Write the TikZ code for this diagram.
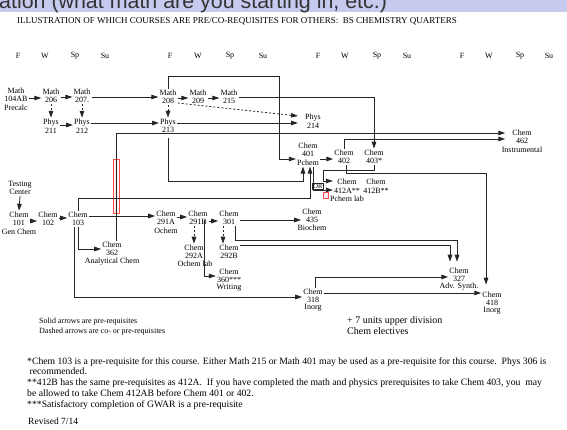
\documentclass[tikz,border=0pt]{standalone}
\usepackage{fontspec}
\setmainfont{Liberation Serif}
\newfontfamily\bannerfont{Liberation Sans}
\usetikzlibrary{arrows.meta,calc}
\definecolor{bannerbg}{RGB}{198,202,238}
\begin{document}
\begin{tikzpicture}[x=1pt,y=-1pt,
  course/.style={align=center,inner sep=1pt,font=\fontsize{8}{8.5}\selectfont},
  sub/.style={inner sep=0pt,font=\fontsize{8}{8.5}\selectfont},
  arr/.style={draw=black!85,line width=0.8pt,-{Triangle[length=7pt,width=4.5pt]}},
  darr/.style={arr,dash pattern=on 2pt off 2pt},
  season/.style={font=\fontsize{8}{8}\selectfont,inner sep=0pt},
  redmark/.style={draw=red!70,fill=red!6,line width=0.5pt}
]
\useasboundingbox (0,0) rectangle (567,430);
\fill[white] (0,0) rectangle (567,430);
\begin{scope}
  \clip (0,0) rectangle (567,430);
  \fill[bannerbg] (0,0) rectangle (567,12);
  \node[anchor=base west,inner sep=0pt,font=\bannerfont\fontsize{21.4}{21.4}\selectfont,text=black!80] (banner) at (-1,8.5) {ation (what math are you starting in, etc.)};
\end{scope}

\node[anchor=west,inner sep=0pt,font=\fontsize{9}{9}\selectfont] (title) at (17,21) {ILLUSTRATION OF WHICH COURSES ARE PRE/CO-REQUISITES FOR OTHERS:\ \ BS CHEMISTRY QUARTERS};

\foreach \x/\t [count=\i] in {18/F,45/W,75/Sp,105/Su,170/F,198/W,230/Sp,263/Su,318/F,345/W,377/Sp,407/Su,462/F,489/W,520/Sp,549/Su}
  \node[season] (s\i) at (\x,56) {\t};

% red annotation marks
\draw[redmark] (113,159) rectangle (119,213);
\draw[redmark] (323,192) rectangle (328,198);

% math / physics
\node[course] (m104) at (16,99) {Math\\104AB\\Precalc};
\node[course] (m206) at (51,96) {Math\\206};
\node[course] (m207) at (82,96) {Math\\207.};
\node[course] (m208) at (168,97) {Math\\208};
\node[course] (m209) at (198,97) {Math\\209};
\node[course] (m215) at (229,97) {Math\\215};
\node[course] (p211) at (51,126) {Phys\\211};
\node[course] (p212) at (82,126) {Phys\\212};
\node[course] (p213) at (168,126) {Phys\\213};
\node[course] (p214) at (313,121) {Phys\\214};

% upper chem
\node[course] (c401) at (308,154) {Chem\\401\\Pchem};
\node[course] (c402) at (344,157) {Chem\\402};
\node[course] (c403) at (374,157) {Chem\\403*};
\node[course] (c462) at (522,137) {Chem\\462};
\node[sub] (c462t) at (522,150) {Instrumental};
\node[course] (c412a) at (347,186) {Chem\\412A**};
\node[course] (c412b) at (376,186) {Chem\\412B**};
\node[sub] (plab) at (347,199) {Pchem lab};
\node[draw=black!85,line width=0.5pt,inner sep=0.8pt,font=\fontsize{6.5}{7}\selectfont] (orl) at (318,186) {OR};

% chem row
\node[course] (test) at (20,188) {Testing\\Center};
\node[course] (c101) at (19,219) {Chem\\101};
\node[sub] (c101t) at (19,232) {Gen Chem};
\node[course] (c102) at (48,219) {Chem\\102};
\node[course] (c103) at (78,219) {Chem\\103};
\node[course] (c362) at (112,249) {Chem\\362};
\node[sub] (c362t) at (112,262) {Analytical Chem};
\node[course] (c291a) at (166,218) {Chem\\291A};
\node[sub] (c291at) at (166,231) {Ochem};
\node[course] (c291b) at (198,218) {Chem\\291B};
\node[course] (c301) at (229,218) {Chem\\301};
\node[course] (c435) at (312,216) {Chem\\435};
\node[sub] (c435t) at (312,228) {Biochem};
\node[course] (c292a) at (194,252) {Chem\\292A};
\node[sub] (c292at) at (195,264) {Ochem lab};
\node[course] (c292b) at (229,252) {Chem\\292B};
\node[course] (c360) at (229,276) {Chem\\360***};
\node[sub] (c360t) at (229,288) {Writing};
\node[course] (c327) at (459,275) {Chem\\327};
\node[sub] (c327t) at (459,287) {Adv. Synth.};
\node[course] (c318) at (313,296) {Chem\\318};
\node[sub] (c318t) at (313,308) {Inorg};
\node[course] (c418) at (492,299) {Chem\\418};
\node[sub] (c418t) at (492,311) {Inorg};

% connectors: math / physics
\draw[arr] (m104.east |- 0,98) -- (m206.west |- 0,98);
\draw[arr] (m206.east |- 0,97) -- (m207.west |- 0,97);
\draw[arr] (m207.east |- 0,97) -- (m208.west |- 0,97);
\draw[arr] (m208.east |- 0,98) -- (m209.west |- 0,98);
\draw[arr] (m209.east |- 0,98) -- (m215.west |- 0,98);
\draw[arr] (m215.east |- 0,97) -| (c403.north);
\draw[arr] (m208.north) |- (279,76) |- (c401.west |- 0,159);
\draw[darr] (m206.south) -- (p211.north);
\draw[darr] (m207.south) -- (p212.north);
\draw[darr] (m208.south) -- (p213.north);
\draw[darr] (m208.east |- 0,103) -- ($(p214.west |- 0,116)+(-6,0)$);
\draw[arr] (p211.east |- 0,125) -- (p212.west |- 0,125);
\draw[arr] (p212.east |- 0,123) -- (p213.west |- 0,123);
\draw[arr] (p213.east |- 0,123) -- ($(p214.west |- 0,123)+(-6,0)$);
\draw[arr,shorten <=4pt] (p213.south) |- (303,181) -- (c401.south -| 303,0);

% connectors: upper chem
\draw[arr] (c103.north) |- (310,198) -- (c401.south -| 310,0);
\draw[arr] (c362.north -| 116,0) |- ($(c462.west |- 0,133)+(-6,0)$);
\draw[arr] (c402.north) |- ($(c462.west |- 0,139)+(-6,0)$);
\draw[arr] (c401.east |- 0,159) -- (c402.west |- 0,159);
\draw[arr] ($(c402.south)+(2,0)$) |- (486,173) -- ($(c418.north -| 486,0)+(0,-6)$);
\draw[arr] (c403.south) |- (323,170) |- (c412a.west |- 0,181);
\draw[arr] ($(c401.south)+(5,0)$) |- (c412a.west |- 0,190);

% connectors: chem row
\draw[arr] (test.south) -- (c101.north);
\draw[arr] (c101.east |- 0,221) -- (c102.west |- 0,221);
\draw[arr] (c102.east |- 0,218) -- (c103.west |- 0,218);
\draw[arr] (c103.east |- 0,216) -- (c291a.west |- 0,216);
\draw[arr] (c103.south) |- (c362.west |- 0,249);
\draw[arr] ($(c103.south)+(-4,0)$) |- (c318.west |- 0,297);
\draw[arr] (c291a.east |- 0,217) -- (c291b.west |- 0,217);
\draw[arr] (c291b.east |- 0,221) -- (c301.west |- 0,221);
\draw[arr] (c301.east |- 0,220) -- (c435.west |- 0,220);
\draw[darr] (c291b.south -| c292a.north) -- (c292a.north);
\draw[darr] ($(c301.south)+(-6,0)$) -- ($(c292b.north)+(-6,0)$);
\draw[arr] ($(c291b.south)+(6,-6)$) |- (c360.west |- 0,276);
\draw[arr] ($(c301.south)+(6,0)$) |- (457,240) -- ($(c327.north -| 457,0)+(0,-5)$);
\draw[arr] (c292b.east |- 0,245) -| ($(c327.north -| 450,0)+(0,-5)$);
\draw[arr] ($(c318.north)+(2,0)$) |- (c327.west |- 0,277);
\draw[arr] (c318.east |- 0,293) -- (c418.west |- 0,293);

% texts
\node[anchor=west,align=left,inner sep=0pt,font=\fontsize{8}{10}\selectfont] (legend) at (39,327) {Solid arrows are pre-requisites\\Dashed arrows are co- or pre-requisites};
\node[anchor=west,align=left,inner sep=0pt,font=\fontsize{10}{11}\selectfont] (elect) at (347,326) {+ 7 units upper division\\Chem electives};
\node[anchor=north west,align=left,inner sep=0pt,font=\fontsize{9.7}{10.8}\selectfont] (notes) at (27,357) {*Chem 103 is a pre-requisite for this course. Either Math 215 or Math 401 may be used as a pre-requisite for this course.\ \ Phys 306 is\\\ recommended.\\**412B has the same pre-requisites as 412A.\ \ If you have completed the math and physics prerequisites to take Chem 403, you\ \ may\\be allowed to take Chem 412AB before Chem 401 or 402.\\***Satisfactory completion of GWAR is a pre-requisite};
\node[anchor=west,inner sep=0pt,font=\fontsize{9.5}{10}\selectfont] (rev) at (28,421) {Revised 7/14};
\end{tikzpicture}
\end{document}
